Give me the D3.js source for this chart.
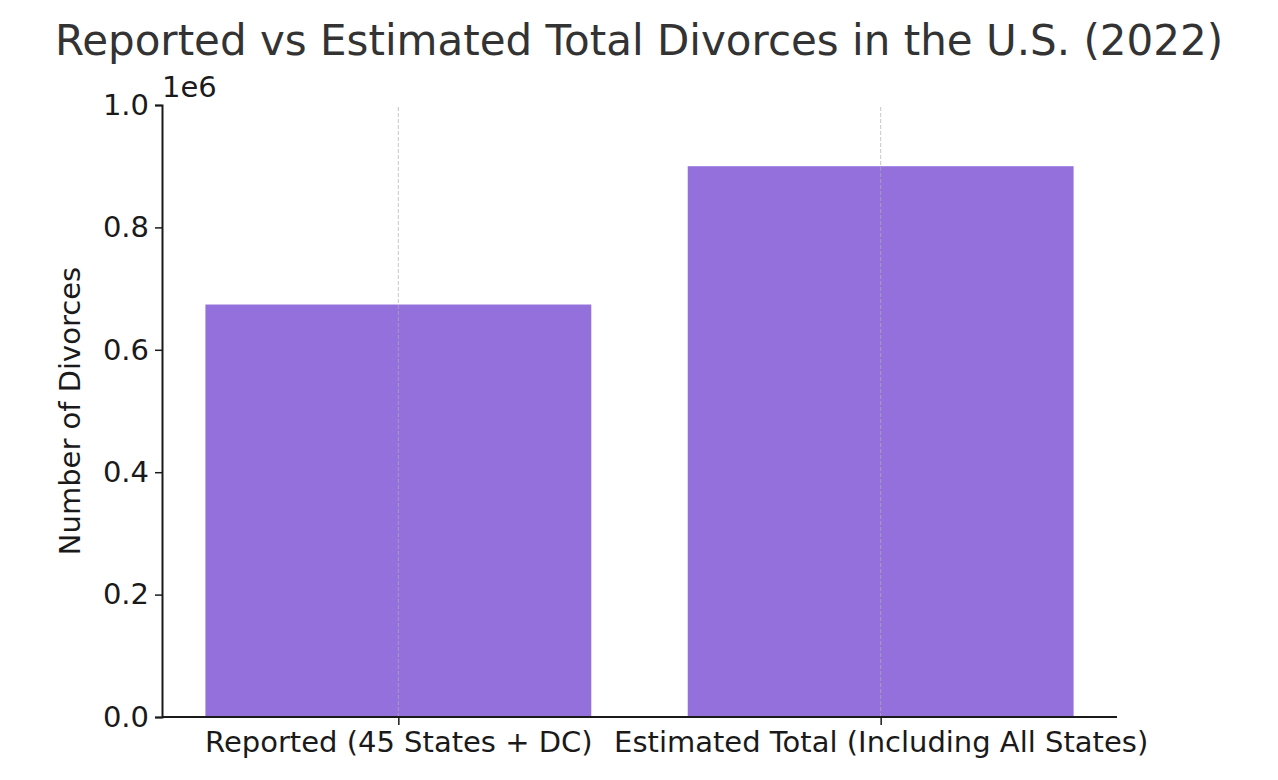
<!DOCTYPE html>
<html>
<head>
<meta charset="utf-8">
<script src="https://cdn.jsdelivr.net/npm/d3@7"></script>
<style>
  body { margin: 0; background: #fff; }
  text { font-family: "DejaVu Sans", sans-serif; }
</style>
</head>
<body>
<div id="root"></div>
<script>
const categories = ["Reported (45 States + DC)", "Estimated Total (Including All States)"];
const divorces = [673989, 900000];
const yTicks = [0, 0.2, 0.4, 0.6, 0.8, 1.0];

const width = 1278, height = 780;
const margin = { left: 162, right: 161, top: 105, bottom: 63 };

const svg = d3.select("#root").append("svg")
  .attr("width", width).attr("height", height);

const x = d3.scaleLinear().domain([-0.49, 1.49]).range([margin.left, width - margin.right]);
const y = d3.scaleLinear().domain([0, 1e6]).range([height - margin.bottom, margin.top]);

// Bars
svg.selectAll("rect.bar").data(divorces).enter().append("rect")
  .attr("class", "bar")
  .attr("x", (d, i) => x(i - 0.4))
  .attr("width", x(0.8) - x(0))
  .attr("y", d => y(d))
  .attr("height", d => y(0) - y(d))
  .attr("fill", "#9370db");

// Vertical grid
svg.selectAll("line.grid").data(categories).enter().append("line")
  .attr("x1", (d, i) => x(i)).attr("x2", (d, i) => x(i))
  .attr("y1", y(0)).attr("y2", y(1e6))
  .attr("stroke", "#b0b0b0").attr("stroke-width", 1)
  .attr("stroke-dasharray", "4,2").attr("opacity", 0.7);

// Y axis
const yAxis = svg.append("g").attr("transform", `translate(${margin.left},0)`)
  .call(d3.axisLeft(y).tickValues(yTicks.map(t => t * 1e6)).tickFormat(d => (d / 1e6).toFixed(1)).tickSize(7).tickPadding(6));
yAxis.select(".domain").attr("stroke", "#1a1a1a").attr("stroke-width", 2);
yAxis.selectAll("line").attr("stroke", "#1a1a1a").attr("stroke-width", 1.5);
yAxis.selectAll("text").attr("font-size", 29).attr("fill", "#1a1a1a")
  .style("font-family", "DejaVu Sans");

// X axis
const xAxis = svg.append("g").attr("transform", `translate(0,${y(0)})`)
  .call(d3.axisBottom(x).tickValues([0, 1]).tickFormat(i => categories[i]).tickSize(8).tickPadding(6));
xAxis.select(".domain").attr("stroke", "#1a1a1a").attr("stroke-width", 2)
  .attr("d", `M${margin.left},0H${width - margin.right}`);
xAxis.selectAll("line").attr("stroke", "#1a1a1a").attr("stroke-width", 1.5);
xAxis.selectAll("text").attr("font-size", 29).attr("fill", "#1a1a1a")
  .style("font-family", "DejaVu Sans");

// Offset label
svg.append("text").attr("x", 162).attr("y", 97)
  .attr("font-size", 29).attr("fill", "#1a1a1a").text("1e6");

// Y label
svg.append("text")
  .attr("transform", `translate(80,${(y(0) + y(1e6)) / 2}) rotate(-90)`)
  .attr("text-anchor", "middle")
  .attr("font-size", 29).attr("fill", "#1a1a1a").text("Number of Divorces");

// Title
svg.append("text").attr("x", 639).attr("y", 55).attr("text-anchor", "middle")
  .attr("font-size", 42).attr("fill", "#333333")
  .text("Reported vs Estimated Total Divorces in the U.S. (2022)");
</script>
</body>
</html>
